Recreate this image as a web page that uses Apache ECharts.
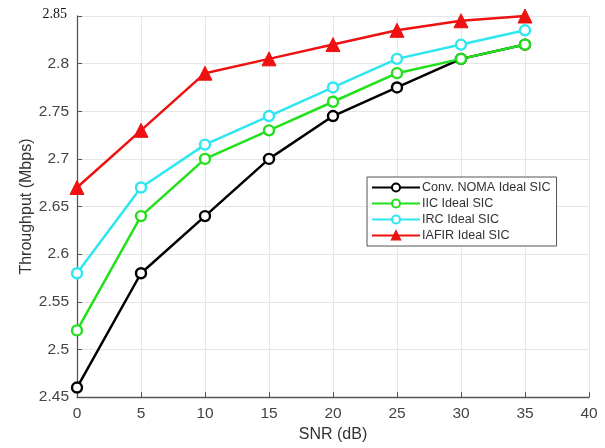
<!DOCTYPE html>
<html>
<head>
<meta charset="utf-8">
<script src="https://cdn.jsdelivr.net/npm/echarts@6/dist/echarts.min.js"></script>
<style>
  html, body { margin: 0; padding: 0; background: #fff; }
  #chart { width: 605px; height: 448px; }
</style>
</head>
<body>
<div id="chart"></div>
<script>
// SNR sweep (dB) and throughput per receiver scheme (Mbps)
const snr = [0, 5, 10, 15, 20, 25, 30, 35];
const convNoma = [2.46, 2.58, 2.64, 2.70, 2.745, 2.775, 2.805, 2.82];
const iic = [2.52, 2.64, 2.70, 2.73, 2.76, 2.79, 2.805, 2.82];
const irc = [2.58, 2.67, 2.715, 2.745, 2.775, 2.805, 2.82, 2.835];
const iafir = [2.67, 2.73, 2.79, 2.805, 2.82, 2.835, 2.845, 2.85];
const seriesNames = ['Conv. NOMA Ideal SIC', 'IIC Ideal SIC', 'IRC Ideal SIC', 'IAFIR Ideal SIC'];
const yTicks = [2.45, 2.5, 2.55, 2.6, 2.65, 2.7, 2.75, 2.8, 2.85];

const pairs = arr => snr.map((x, i) => [x, arr[i]]);

const font = 'Liberation Sans, Arial, sans-serif';

function lineSeries(name, data, color, symbol) {
  const triangle = symbol === 'triangle';
  return {
    name: name,
    type: 'line',
    data: pairs(data),
    symbol: symbol,
    symbolSize: triangle ? 14 : 10,
    showAllSymbol: true,
    lineStyle: { color: color, width: 2.5 },
    itemStyle: triangle
      ? { color: color, borderColor: color, borderWidth: 1 }
      : { color: '#fff', borderColor: color, borderWidth: 2.4 },
    emphasis: { disabled: true },
    z: 3
  };
}

const chart = echarts.init(document.getElementById('chart'), null, { renderer: 'canvas' });
chart.setOption({
  animation: false,
  backgroundColor: '#fff',
  grid: { left: 77, right: 16, top: 16, bottom: 47 },
  xAxis: {
    type: 'value',
    min: 0, max: 40, interval: 5,
    name: 'SNR (dB)',
    nameLocation: 'middle',
    nameGap: 28,
    nameTextStyle: { fontFamily: font, fontSize: 16, color: '#333' },
    axisLine: { show: true, lineStyle: { color: '#555', width: 1.3 } },
    axisTick: { show: true, inside: true, length: 5, lineStyle: { color: '#555' } },
    axisLabel: { fontFamily: font, fontSize: 15.5, color: '#444', margin: 9 },
    splitLine: { show: true, lineStyle: { color: '#e6e6e6', width: 1 } }
  },
  yAxis: {
    type: 'value',
    min: 2.45, max: 2.85, interval: 0.05,
    name: 'Throughput (Mbps)',
    nameLocation: 'middle',
    nameGap: 42,
    nameMoveOverlap: false,
    nameTextStyle: { fontFamily: font, fontSize: 16, color: '#333' },
    axisLine: { show: true, lineStyle: { color: '#555', width: 1.3 } },
    axisTick: { show: true, inside: true, length: 5, lineStyle: { color: '#555' } },
    axisLabel: {
      fontFamily: font, fontSize: 15.5, color: '#444', margin: 8,
      formatter: v => {
        const t = yTicks.find(k => Math.abs(k - v) < 1e-9);
        if (t === 2.85) return '{top|2.85}';
        return String(+v.toFixed(2));
      },
      rich: {
        top: { fontFamily: 'Liberation Serif, Times New Roman, serif', fontSize: 14, color: '#111', padding: [0, 2, 4, 0] }
      }
    },
    splitLine: { show: true, lineStyle: { color: '#e6e6e6', width: 1 } }
  },
  legend: {
    data: seriesNames,
    orient: 'vertical',
    left: 367,
    top: 177,
    itemWidth: 48,
    itemHeight: 10,
    itemGap: 3,
    padding: [4, 6, 4, 4],
    backgroundColor: '#fff',
    borderColor: '#555',
    borderWidth: 1,
    textStyle: { fontFamily: font, fontSize: 12.6, color: '#333', padding: [0, 0, 0, -3] }
  },
  series: [
    lineSeries(seriesNames[0], convNoma, '#000000', 'circle'),
    lineSeries(seriesNames[1], iic, '#22e01c', 'circle'),
    lineSeries(seriesNames[2], irc, '#2ee6f0', 'circle'),
    lineSeries(seriesNames[3], iafir, '#ee1111', 'triangle')
  ]
});
</script>
</body>
</html>
